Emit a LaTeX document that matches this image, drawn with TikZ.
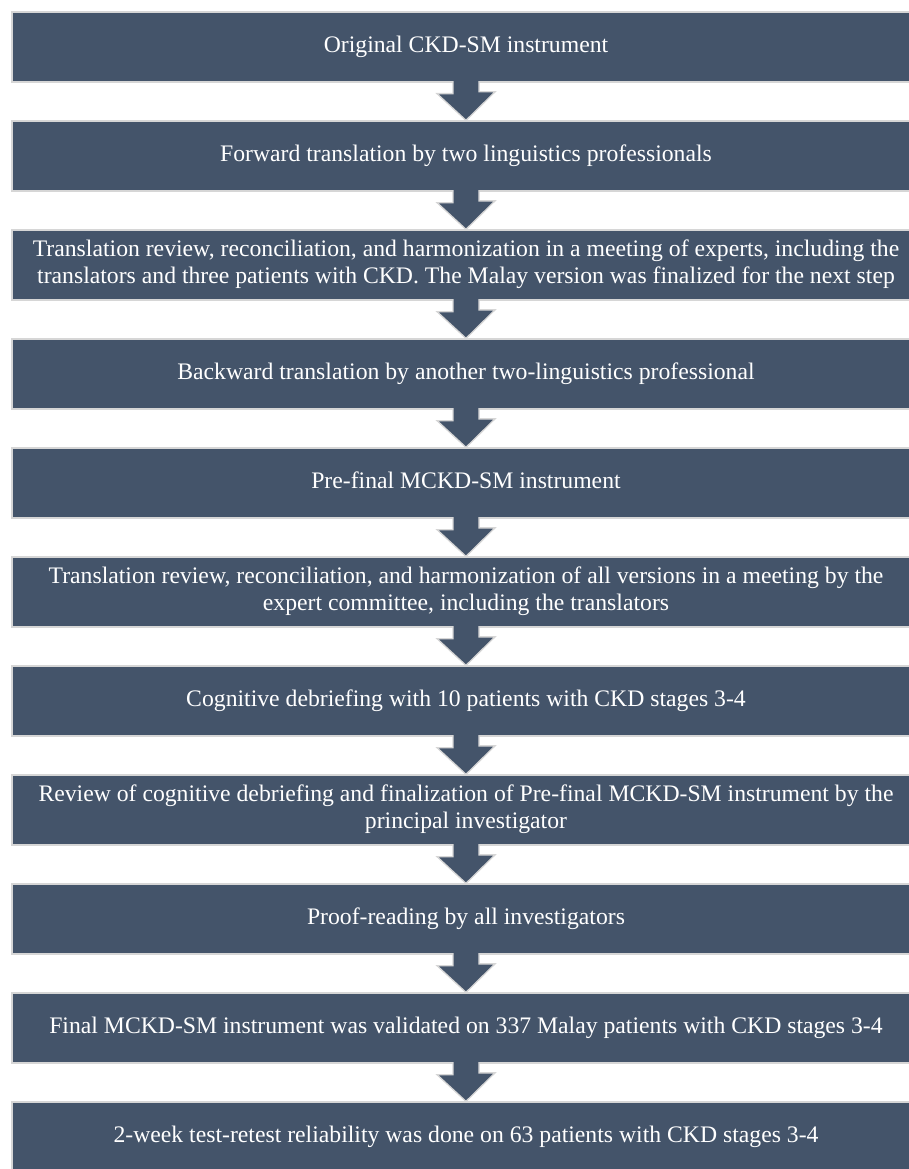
\documentclass[tikz,border=0pt]{standalone}
\usepackage{fontspec}
\setmainfont{Liberation Serif}
\definecolor{boxblue}{HTML}{44546A}
\definecolor{edgegray}{HTML}{D6D6D6}
% step text: centred lines, pushed 24pt left of the box centre
\newcommand{\steptext}[1]{\begin{tabular}{@{}c@{}}#1\end{tabular}\hspace*{48pt}}
\begin{document}
\begin{tikzpicture}[x=1pt,y=1pt,
  stepbox/.style={rectangle, fill=boxblue, draw=edgegray, line width=1.3pt,
    minimum width=956pt, minimum height=70pt, inner sep=0pt,
    text=white, font=\fontsize{23.7}{27}\selectfont},
  downarrow/.style={fill=boxblue, draw=edgegray, line width=1.3pt, line join=miter}]
\useasboundingbox (0,0) rectangle (908,-1169);
\node[stepbox] (b1)  at (490,-47)   {\steptext{Original CKD-SM instrument}};
\node[stepbox] (b2)  at (490,-156)  {\steptext{Forward translation by two linguistics professionals}};
\node[stepbox] (b3)  at (490,-265)  {\steptext{Translation review, reconciliation, and harmonization in a meeting of experts, including the\\translators and three patients with CKD. The Malay version was finalized for the next step}};
\node[stepbox] (b4)  at (490,-374)  {\steptext{Backward translation by another two-linguistics professional}};
\node[stepbox] (b5)  at (490,-483)  {\steptext{Pre-final MCKD-SM instrument}};
\node[stepbox] (b6)  at (490,-592)  {\steptext{Translation review, reconciliation, and harmonization of all versions in a meeting by the\\expert committee, including the translators}};
\node[stepbox] (b7)  at (490,-701)  {\steptext{Cognitive debriefing with 10 patients with CKD stages 3-4}};
\node[stepbox] (b8)  at (490,-810)  {\steptext{Review of cognitive debriefing and finalization of Pre-final MCKD-SM instrument by the\\principal investigator}};
\node[stepbox] (b9)  at (490,-919)  {\steptext{Proof-reading by all investigators}};
\node[stepbox] (b10) at (490,-1028) {\steptext{Final MCKD-SM instrument was validated on 337 Malay patients with CKD stages 3-4}};
\node[stepbox] (b11) at (490,-1137) {\steptext{2-week test-retest reliability was done on 63 patients with CKD stages 3-4}};
% block arrows joining consecutive steps, on the axis 24pt left of the box centres
\foreach \a/\b in {b1/b2,b2/b3,b3/b4,b4/b5,b5/b6,b6/b7,b7/b8,b8/b9,b9/b10,b10/b11}{
  \filldraw[downarrow] ([xshift=-37pt,yshift=1.5pt]\a.south) -- ++(0,-12.5) -- ++(-16,0)
    -- ([xshift=-24pt]\b.north) -- ++(29,28.5) -- ++(-16,0) -- ([xshift=-11pt,yshift=1.5pt]\a.south);
}
\end{tikzpicture}
\end{document}
